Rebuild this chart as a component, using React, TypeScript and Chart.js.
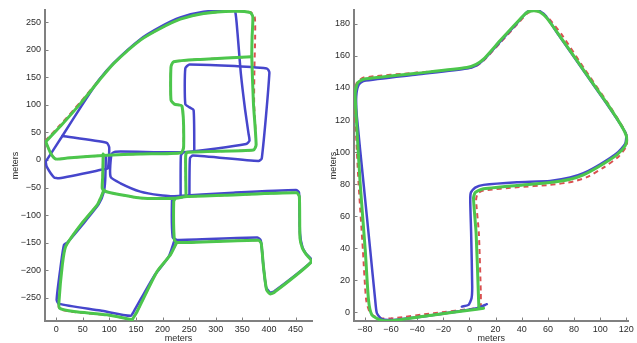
import React, { useEffect, useRef } from "react";
import { Chart, registerables } from "chart.js";

Chart.register(...registerables);

type P = [number, number];

// ---------- tick labels ----------
const leftXTicks = [0, 50, 100, 150, 200, 250, 300, 350, 400, 450];
const leftYTicks = [-250, -200, -150, -100, -50, 0, 50, 100, 150, 200, 250];
const rightXTicks = [-80, -60, -40, -20, 0, 20, 40, 60, 80, 100, 120];
const rightYTicks = [0, 20, 40, 60, 80, 100, 120, 140, 160, 180];

const leftXRange = [-21, 481];
const leftYRange = [-292, 272];
const rightXRange = [-88.3, 121.5];
const rightYRange = [-5.5, 188.7];

// ---------- left panel: green (solid) ----------
const leftGreenArc: P[] = [
  [-19.7, 33.2], [8.4, 61.6], [45.9, 102.7], [80.3, 143.7], [108.4, 175.1], [158.4, 217.4],
  [195.9, 238.5], [233.4, 255.4], [277.2, 265.7], [333.4, 269.9], [364.7, 267.5], [369.7, 259.7],
  [368.4, 223.4], [367.8, 187.2], [370.9, 102.7], [375.9, 27.2], [370.9, 18.1], [245.9, 13.9],
  [243.4, 6.0], [244.1, -63.4],
];
const leftGreenInner: P[] = [
  [367.8, 187.2], [270.9, 182.4], [220.9, 178.1], [215.9, 169.1], [215.9, 108.7], [222.2, 101.4],
  [236.6, 97.8], [239.7, 24.2], [235.3, 13.3], [158.4, 10.9], [95.9, 8.5], [20.9, 3.6],
  [-0.9, 1.8], [-10.3, 12.1], [-19.7, 33.2],
];
const leftGreenMid: P[] = [
  [88.4, 10.9], [87.5, -30], [86.6, -51.3], [90.9, -56], [100, -59], [158.4, -69], [220, -69.5],
  [246, -66.4], [333, -63.4], [452.2, -59.5], [457.2, -66.4], [458.4, -141.9], [463, -160],
  [470, -171], [480.3, -184.2], [409.7, -240.3], [402.2, -242.8], [395.5, -235], [389.7, -193.2],
  [385.5, -151], [380.3, -145.5], [227.2, -149.8], [222.2, -145], [221, -75.5], [224, -69.5],
];
const leftGreenDiag: P[] = [
  [225.9, -151.0], [214.7, -172.1], [189.7, -202.3], [152.2, -274.8], [142.8, -289.9],
];
const leftGreenLowLeft: P[] = [
  [89.7, -54.3], [83.4, -69.4], [77.2, -81.5], [45.9, -117.8], [17.8, -157.0], [11.6, -190.2],
  [5.3, -256.6], [6.6, -268.7], [33.4, -274.8], [95.9, -280.8], [142.8, -289.9],
];

// ---------- left panel: blue (solid) ----------
const leftBlueMain: P[] = [
  [-19.7, -3.0], [11.6, 43.5], [45.9, 95.4], [80.3, 144.9], [108.4, 176.3], [158.4, 219.2],
  [195.9, 241.5], [233.4, 258.5], [277.2, 268.7], [330, 272.0], [336.6, 269.5], [341, 229.5],
  [347.2, 157], [355.3, 90.6], [361.6, 48.3], [363.4, 35], [357.2, 29], [245.9, 14.5],
  [111.6, 15.1], [104.1, 10.9], [102.2, -30.2], [120.9, -42.3], [158.4, -57.4], [195.9, -64],
  [236.6, -67.6],
];
const leftBlueLoop: P[] = [
  [11.6, 43.5], [94.7, 31.4], [99.7, 22.9], [97.2, -15.1], [89.7, -16.9], [5.3, -33.2],
  [-4.1, -31.4], [-17.8, -12.1], [-19.7, -3.0],
];
const leftBlueRect: P[] = [
  [259.7, 15.1], [258.4, 90.6], [250.9, 95.4], [242.8, 101.4], [242.8, 166.1], [250.9, 173.3],
  [395.9, 166.1], [400.9, 158.2], [386.6, 3.0], [380.3, -1.8], [257, 8], [251.5, 3], [250.5, -65],
];
const leftBlueMidV: P[] = [[239, 14.2], [234.5, 8], [234, -66.5]];
const leftBlueLower: P[] = [
  [214.7, -66.4], [333.4, -59.2], [450.9, -54.3], [456.6, -59.2], [458.4, -132.9], [463, -158],
  [469.1, -169.1], [481.6, -182.4], [409.7, -238.5], [402.2, -240.3], [394.7, -230.7],
  [389.7, -193.2], [384.7, -146.1], [378.4, -140.7], [227.2, -144.9], [219.1, -140.1],
  [217.8, -72.5], [220.9, -67.6],
];
const leftBlueLowLeft: P[] = [
  [222.2, -146.1], [211.6, -175.1], [183.4, -211.4], [145.9, -274.8], [139.7, -282.6],
  [83.4, -273], [5.3, -260.9], [0.9, -253.6], [8.4, -193.2], [14.7, -154], [20.9, -149.8],
  [49.1, -117.8], [80.3, -79.7], [89.7, -57.4], [92.2, -36.2], [93.4, 6.0],
];

// ---------- left panel: red (dashed) ----------
const leftRedArc: P[] = [
  [-20.5, 35.0], [7.5, 63.5], [45.0, 104.2], [80.0, 144.5], [108.4, 175.6], [158.4, 217.8],
  [195.9, 238.8], [233.4, 255.6], [277.2, 265.8], [333.4, 270.0], [365.9, 268.1], [373.4, 258.5],
  [374.1, 223.4], [372.8, 169.1], [372.2, 102.7], [375.9, 27.2], [370.9, 18.1], [245.9, 13.9],
  [243.4, 6.0], [244.1, -63.4],
];
const leftRedLowLeft: P[] = [
  [89.7, -54.3], [83.4, -69.4], [77.2, -81.5], [45.9, -117.8], [17.8, -157.0], [11.0, -190.2],
  [4.6, -256.6], [6.0, -270.0], [33.4, -275.8], [95.9, -281.3], [142.8, -289.9],
];

// ---------- right panel ----------
const rightGreen: P[] = [
  [7.2, 3.1], [6.8, 11.9], [5.1, 49.3], [3.1, 71.2], [4.4, 74.7], [9.5, 76.8], [36.3, 79.1],
  [61.7, 81.0], [77.0, 83.0], [87.2, 85.7], [100.0, 91.4], [112.7, 98.2], [119.1, 103.9],
  [120.4, 108.6], [117.3, 114.9], [105.1, 130.5], [87.2, 151.3], [69.4, 172.1], [59.2, 183.6],
  [54.1, 187.3], [49.0, 188.3], [43.9, 187.1], [36.3, 180.9], [23.5, 169.6], [10.8, 158.0],
  [5.1, 154.8], [-2.0, 152.8], [-40.2, 149.2], [-81.0, 145.5], [-85.6, 143.0], [-87.4, 136.7],
  [-86.6, 122.2], [-83.6, 80.5], [-79.7, 38.9], [-77.2, 7.7], [-74.6, -1.7], [-68.3, -4.8],
  [-58.1, -5.2], [-27.5, -1.7], [5.7, 1.9], [10.8, 2.5],
];
const rightBlue: P[] = [
  [-5.8, 3.5], [-0.7, 4.6], [1.6, 8.7], [2.1, 16.0], [1.3, 49.3], [0.6, 70.2], [1.1, 74.7],
  [4.4, 77.8], [10.8, 79.5], [36.3, 81.2], [61.7, 82.0], [77.0, 84.1], [87.2, 86.8],
  [100.0, 92.4], [112.7, 99.3], [119.1, 105.1], [119.9, 110.7], [116.6, 115.9], [103.8, 131.5],
  [86.0, 152.3], [68.1, 173.2], [58.7, 184.6], [53.6, 188.1], [49.0, 188.8], [43.9, 187.3],
  [36.3, 180.4], [23.5, 169.0], [10.8, 157.5], [5.1, 154.0], [-2.0, 152.1], [-40.2, 148.4],
  [-81.0, 144.4], [-84.8, 141.9], [-86.6, 134.7], [-86.1, 122.2], [-81.0, 80.5], [-75.9, 38.9],
  [-72.1, 7.7], [-70.8, -0.6], [-67.0, -4.4], [-58.1, -4.8], [-27.5, -1.7], [5.7, 2.5],
  [13.3, 5.0],
];
const rightRed: P[] = [
  [8.7, 2.5], [8.7, 11.9], [7.2, 49.3], [5.1, 70.2], [6.4, 74.3], [10.8, 76.0], [36.3, 78.0],
  [61.7, 79.5], [79.6, 81.6], [89.8, 84.3], [102.5, 90.3], [114.0, 97.1], [119.9, 103.4],
  [120.9, 108.6], [117.8, 114.9], [105.6, 130.9], [88.0, 151.9], [70.7, 173.2], [60.5, 183.6],
  [54.6, 187.3], [49.5, 188.1], [44.4, 186.7], [36.8, 180.0], [24.0, 168.6], [11.3, 157.5],
  [5.7, 154.0], [-1.5, 152.3], [-40.2, 149.6], [-81.0, 146.5], [-86.1, 143.4], [-87.9, 136.7],
  [-87.4, 122.2], [-84.8, 80.5], [-81.5, 38.9], [-79.0, 7.7], [-75.9, -0.6], [-69.5, -3.7],
  [-58.1, -3.7], [-27.5, -0.6], [5.7, 2.5], [9.5, 3.1],
];

// ---------- styling ----------
const FONT = "'Liberation Sans', Arial, Helvetica, sans-serif";
const BLUE = "#4646cc";
const GREEN = "#4cc64c";
const RED = "#d95050";
const AXIS = "#808080";
const TEXT = "#2b2b2b";

const toXY = (a: P[]) => a.map(([x, y]) => ({ x, y }));

function line(data: P[], kind: "g" | "b" | "r") {
  const base: any = {
    data: toXY(data),
    showLine: true,
    pointRadius: 0,
    fill: false,
    tension: 0.2,
    borderJoinStyle: "round",
    borderCapStyle: "round",
  };
  if (kind === "g") return { ...base, borderColor: GREEN, borderWidth: 3, order: 0 };
  if (kind === "b") return { ...base, borderColor: BLUE, borderWidth: 2.5, order: 1 };
  return { ...base, borderColor: RED, borderWidth: 2, borderDash: [5, 4], borderCapStyle: "butt", order: 2 };
}

const inwardTicks = {
  id: "inwardTicks",
  beforeDatasetsDraw(chart: any) {
    const { ctx, chartArea, scales } = chart;
    ctx.save();
    ctx.strokeStyle = AXIS;
    ctx.lineWidth = 1;
    scales.x.ticks.forEach((t: any) => {
      const px = Math.round(scales.x.getPixelForValue(t.value)) + 0.5;
      ctx.beginPath();
      ctx.moveTo(px, chartArea.bottom);
      ctx.lineTo(px, chartArea.bottom - 3.5);
      ctx.stroke();
    });
    scales.y.ticks.forEach((t: any) => {
      const py = Math.round(scales.y.getPixelForValue(t.value)) + 0.5;
      ctx.beginPath();
      ctx.moveTo(chartArea.left, py);
      ctx.lineTo(chartArea.left + 3.5, py);
      ctx.stroke();
    });
    ctx.restore();
  },
};

const fmt = (v: any) => String(v).replace("-", "\u2212");

interface PanelProps {
  left: number;
  width: number;
  datasets: any[];
  xRange: number[];
  yRange: number[];
  xTicks: number[];
  yTicks: number[];
  yAxisWidth: number;
  padRight: number;
  yTitlePad: number;
}

function Panel(p: PanelProps) {
  const ref = useRef<HTMLCanvasElement>(null);
  useEffect(() => {
    const chart = new Chart(ref.current as HTMLCanvasElement, {
      type: "scatter",
      data: { datasets: p.datasets },
      options: {
        responsive: false,
        animation: false,
        events: [],
        layout: { padding: { left: 0, right: p.padRight, top: 10, bottom: 0 } },
        plugins: { legend: { display: false }, tooltip: { enabled: false } },
        scales: {
          x: {
            type: "linear",
            min: p.xRange[0],
            max: p.xRange[1],
            afterFit: (s: any) => {
              s.height = 22;
            },
            afterBuildTicks: (s: any) => {
              s.ticks = p.xTicks.map((v) => ({ value: v }));
            },
            grid: { display: false, drawTicks: false, tickLength: 0 },
            border: { display: true, color: AXIS, width: 2 },
            ticks: {
              color: TEXT,
              font: { family: FONT, size: 9 },
              padding: 3,
              maxRotation: 0,
              autoSkip: false,
              callback: fmt,
            },
            title: {
              display: true,
              text: "meters",
              color: TEXT,
              font: { family: FONT, size: 9 },
              padding: { top: 0, bottom: -1 },
            },
          },
          y: {
            type: "linear",
            min: p.yRange[0],
            max: p.yRange[1],
            afterFit: (s: any) => {
              s.width = p.yAxisWidth;
            },
            afterBuildTicks: (s: any) => {
              s.ticks = p.yTicks.map((v) => ({ value: v }));
            },
            grid: { display: false, drawTicks: false, tickLength: 0 },
            border: { display: true, color: AXIS, width: 2 },
            ticks: {
              color: TEXT,
              font: { family: FONT, size: 9 },
              padding: 4,
              autoSkip: false,
              callback: fmt,
            },
            title: {
              display: true,
              text: "meters",
              color: TEXT,
              font: { family: FONT, size: 9 },
              padding: { top: p.yTitlePad, bottom: 0 },
            },
          },
        },
      } as any,
      plugins: [inwardTicks],
    });
    return () => chart.destroy();
  }, []);
  return (
    <canvas
      ref={ref}
      width={p.width}
      height={343}
      style={{ position: "absolute", left: p.left, top: 0, width: p.width, height: 343, display: "block" }}
    />
  );
}

const leftDatasets = [
  line(leftGreenArc, "g"),
  line(leftGreenInner, "g"),
  line(leftGreenMid, "g"),
  line(leftGreenDiag, "g"),
  line(leftGreenLowLeft, "g"),
  line(leftBlueMain, "b"),
  line(leftBlueLoop, "b"),
  line(leftBlueRect, "b"),
  line(leftBlueMidV, "b"),
  line(leftBlueLower, "b"),
  line(leftBlueLowLeft, "b"),
  line(leftRedArc, "r"),
  line(leftGreenInner, "r"),
  line(leftGreenMid, "r"),
  line(leftGreenDiag, "r"),
  line(leftRedLowLeft, "r"),
];

const rightDatasets = [line(rightGreen, "g"), line(rightBlue, "b"), line(rightRed, "r")];

export default function App() {
  return (
    <div style={{ position: "absolute", left: 0, top: 0, width: 637, height: 343, background: "#fff" }}>
      <Panel
        left={0}
        width={318}
        datasets={leftDatasets}
        xRange={leftXRange}
        yRange={leftYRange}
        xTicks={leftXTicks}
        yTicks={leftYTicks}
        yAxisWidth={45}
        padRight={6}
        yTitlePad={10.5}
      />
      <Panel
        left={318}
        width={319}
        datasets={rightDatasets}
        xRange={rightXRange}
        yRange={rightYRange}
        xTicks={rightXTicks}
        yTicks={rightYTicks}
        yAxisWidth={36}
        padRight={8.7}
        yTitlePad={10.2}
      />
    </div>
  );
}
